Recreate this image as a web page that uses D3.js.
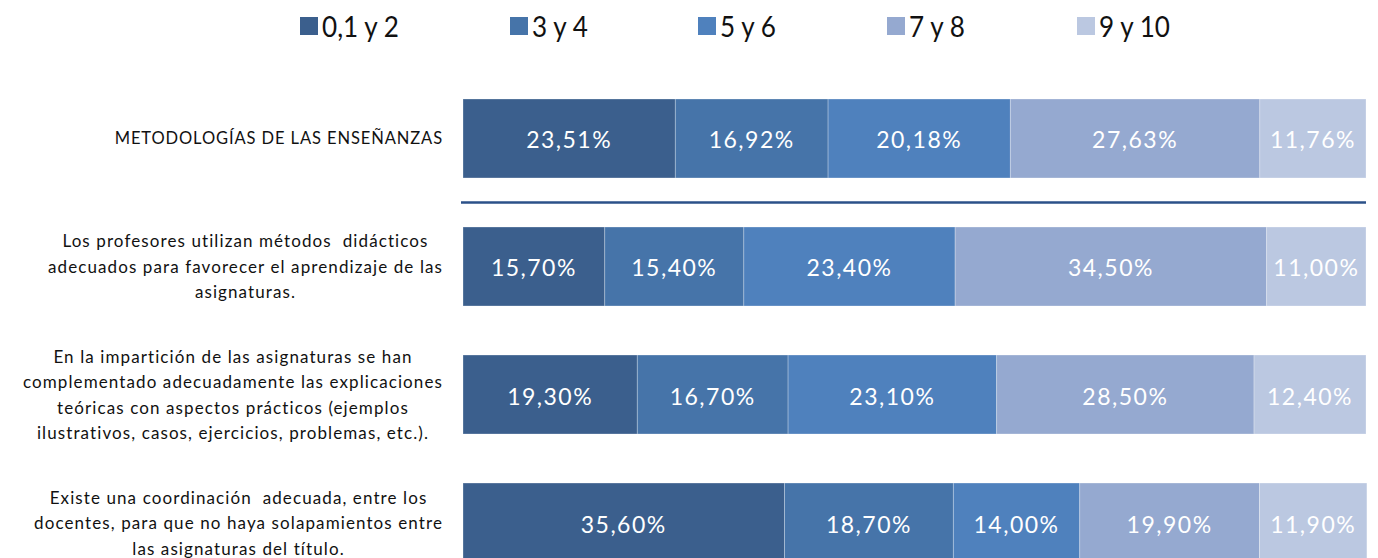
<!DOCTYPE html>
<html><head><meta charset="utf-8">
<script src="https://cdn.jsdelivr.net/npm/d3@7"></script>
<style>body{margin:0;background:#fff}svg{display:block}</style>
</head><body><svg id="c" width="1378" height="558"></svg>
<script>
const categories = [
  ["METODOLOGÍAS DE LAS ENSEÑANZAS"],
  ["Los profesores utilizan métodos  didácticos","adecuados para favorecer el aprendizaje de las","asignaturas."],
  ["En la impartición de las asignaturas se han","complementado adecuadamente las explicaciones","teóricas con aspectos prácticos (ejemplos","ilustrativos, casos, ejercicios, problemas, etc.)."],
  ["Existe una coordinación  adecuada, entre los","docentes, para que no haya solapamientos entre","las asignaturas del título."]
];
const seriesNames = ["0,1 y 2","3 y 4","5 y 6","7 y 8","9 y 10"];
const s012 = [23.51, 15.70, 19.30, 35.60];
const s34  = [16.92, 15.40, 16.70, 18.70];
const s56  = [20.18, 23.40, 23.10, 14.00];
const s78  = [27.63, 34.50, 28.50, 19.90];
const s910 = [11.76, 11.00, 12.40, 11.90];
const colors = ["#3b5f8d","#4674a9","#4f81bd","#95a9d0","#bbc8e1"];

const series = [s012, s34, s56, s78, s910];
const svg = d3.select("#c");
const font = "Lato, 'Open Sans', sans-serif";

const x = d3.scaleLinear().domain([0,100]).range([463,1366]);
const idx = categories.map((d,i)=>i);
const y = d3.scaleBand().domain(idx).range([99,562]).paddingInner(0.383).paddingOuter(0);

// bars
idx.forEach(i=>{
  let cum = 0;
  series.forEach((s,k)=>{
    const v = s[i];
    const x0 = x(cum), x1 = x(cum+v);
    svg.append("rect").attr("x",x0).attr("y",y(i)).attr("width",x1-x0).attr("height",y.bandwidth())
      .attr("fill",colors[k]).attr("stroke","rgba(255,255,255,0.35)").attr("stroke-width",0.8);
    svg.append("text").attr("x",(x0+x1)/2).attr("y",y(i)+y.bandwidth()/2+1)
      .attr("text-anchor","middle").attr("dominant-baseline","central")
      .attr("fill","#fff").attr("font-family",font).attr("font-size",23).attr("letter-spacing",1.5)
      .text(v.toFixed(2).replace(".",",")+"%");
    cum += v;
  });
});

// separator line between first and second rows
const sepY = (y(0)+y.bandwidth()+y(1))/2;
svg.append("line").attr("x1",x(0)-2).attr("x2",x(100)).attr("y1",sepY).attr("y2",sepY)
  .attr("stroke","#2b5189").attr("stroke-width",2.5);

// category labels
const right = 443, lh = 25.5;
idx.forEach(i=>{
  const lines = categories[i];
  const g = svg.append("g");
  const cy = y(i)+y.bandwidth()/2;
  const ts = lines.map((t,j)=>g.append("text").attr("font-family",font)
    .attr("font-size", i===0 ? 16.5 : 17)
    .attr("letter-spacing", i===0 ? 0.9 : 1.1).style("white-space","pre")
    .attr("fill","#111").attr("text-anchor","middle").attr("dominant-baseline","central")
    .attr("y",cy+(j-(lines.length-1)/2)*lh).text(t));
  const maxW = d3.max(ts,t=>t.node().getComputedTextLength());
  ts.forEach(t=>t.attr("x",right-maxW/2));
});

// legend
const legX = [300,510,698,887,1077];
seriesNames.forEach((n,k)=>{
  svg.append("rect").attr("x",legX[k]).attr("y",17).attr("width",18).attr("height",18).attr("fill",colors[k]);
  svg.append("text").attr("transform",`translate(${legX[k]+22},26) scale(0.9,1)`)
    .attr("dominant-baseline","central").attr("font-family",font).attr("font-size",29)
    .attr("fill","#111").text(n);
});
</script></body></html>
